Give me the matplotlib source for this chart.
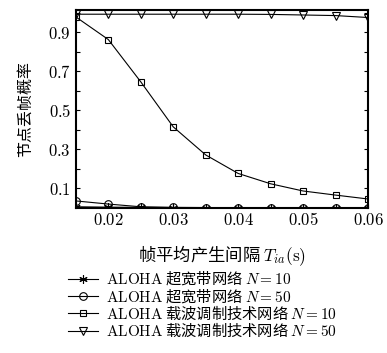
import matplotlib
matplotlib.use("Agg")
import matplotlib.pyplot as plt
import numpy as np
from matplotlib.ticker import FixedLocator, FixedFormatter

plt.rcParams['font.family'] = ['Noto Sans CJK SC', 'Liberation Serif']
plt.rcParams['mathtext.fontset'] = 'cm'

x = [0.015, 0.02, 0.025, 0.03, 0.035, 0.04, 0.045, 0.05, 0.055, 0.06]
uwb_n10 = [0.004, 0.002, 0.001, 0.0, 0.0, 0.0, 0.0, 0.0, 0.0, 0.0]
uwb_n50 = [0.034, 0.018, 0.004, 0.001, 0.0, 0.0, 0.0, 0.0, 0.0, 0.0]
cw_n10 = [0.978, 0.862, 0.645, 0.414, 0.27, 0.175, 0.122, 0.085, 0.064, 0.044]
cw_n50 = [0.992, 0.992, 0.992, 0.992, 0.992, 0.992, 0.991, 0.988, 0.985, 0.975]

labels = [r'$\mathrm{ALOHA}$ 超宽带网络 $N{=}10$', r'$\mathrm{ALOHA}$ 超宽带网络 $N{=}50$',
          r'$\mathrm{ALOHA}$ 载波调制技术网络 $N{=}10$', r'$\mathrm{ALOHA}$ 载波调制技术网络 $N{=}50$']
xticks = [0.02, 0.03, 0.04, 0.05, 0.06]
yticks = [0.1, 0.3, 0.5, 0.7, 0.9]

fig = plt.figure(figsize=(3.87, 3.53), dpi=100)
ax = fig.add_axes([0.196, 0.412, 0.755, 0.561])

star = (6, 2, 0)
ax.plot(x, uwb_n10, color='black', lw=0.8, marker=star, ms=6, mfc='none', mec='black', mew=0.8, label=labels[0])
ax.plot(x, uwb_n50, color='black', lw=0.8, marker='o', ms=5.5, mfc='none', mec='black', mew=0.8, label=labels[1])
ax.plot(x, cw_n10, color='black', lw=0.8, marker='s', ms=5, mfc='none', mec='black', mew=0.8, label=labels[2])
ax.plot(x, cw_n50, color='black', lw=0.8, marker='v', ms=6, mfc='none', mec='black', mew=0.8, label=labels[3])

ax.set_xlim(0.015, 0.06)
ax.set_ylim(0, 1.016)
ax.xaxis.set_major_locator(FixedLocator(xticks))
ax.xaxis.set_major_formatter(FixedFormatter(['$%g$' % v for v in xticks]))
ax.yaxis.set_major_locator(FixedLocator(yticks))
ax.yaxis.set_major_formatter(FixedFormatter(['$%g$' % v for v in yticks]))
ax.yaxis.set_minor_locator(FixedLocator([0.2, 0.4, 0.6, 0.8, 1.0]))
ax.tick_params(axis='both', which='both', direction='in', labelsize=12, right=True)
ax.tick_params(axis='both', which='major', length=3, width=0.8)
ax.tick_params(axis='y', which='minor', length=3, width=0.8)
for s in ax.spines.values():
    s.set_linewidth(1.5)

ax.set_xlabel(r'帧平均产生间隔 $T_{ia}(\mathrm{s})$', fontsize=12.5, labelpad=10)
ax.set_ylabel('节点丢帧概率', fontsize=11.5, labelpad=10)

leg = fig.legend(loc='upper left', bbox_to_anchor=(0.155, 0.256), frameon=False,
                 fontsize=11, handlelength=2.0, handletextpad=0.5,
                 labelspacing=-0.05, borderpad=0)

fig.savefig('out.png', dpi=100)
